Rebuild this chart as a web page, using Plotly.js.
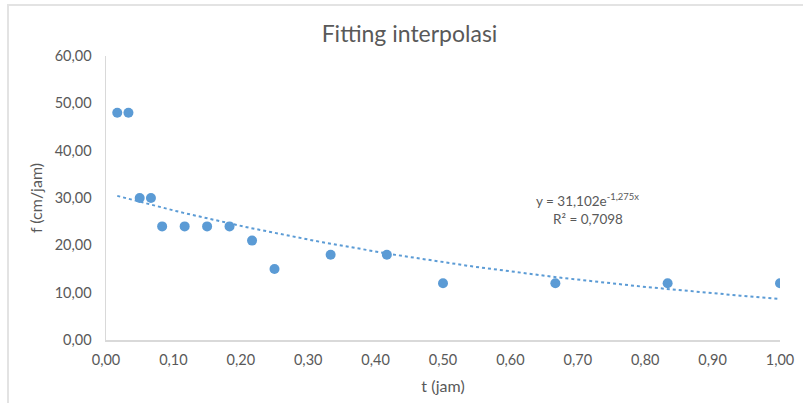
<!DOCTYPE html>
<html>
<head>
<meta charset="utf-8">
<script src="https://cdn.plot.ly/plotly-3.0.1.min.js"></script>
<style>
html,body{margin:0;padding:0;background:#fff;}
#chart{width:803px;height:403px;}
#frame{position:absolute;left:7px;top:4px;width:820px;height:420px;border-left:2px solid #e3e3e3;border-top:2px solid #e3e3e3;pointer-events:none;}
</style>
</head>
<body>
<div id="chart"></div>
<div id="frame"></div>
<script>
// Data: t (jam) and f (cm/jam)
const tJam = [0.0167, 0.0333, 0.05, 0.0667, 0.0833, 0.1167, 0.15, 0.1833, 0.2167, 0.25, 0.3333, 0.4167, 0.5, 0.6667, 0.8333, 1.0];
const fCmJam = [48, 48, 30, 30, 24, 24, 24, 24, 21, 15, 18, 18, 12, 12, 12, 12];

// Trendline coefficients as shown on chart: y = a * e^(b x)
const trendA = 31.102;
const trendB = -1.275;
const trendR2 = 0.7098;

const yTicks = [0, 10, 20, 30, 40, 50, 60];
const xTicks = [0, 0.1, 0.2, 0.3, 0.4, 0.5, 0.6, 0.7, 0.8, 0.9, 1.0];

const xMin = Math.min(...tJam), xMax = Math.max(...tJam);
const trendX = [], trendY = [];
for (let i = 0; i <= 100; i++) {
  const x = xMin + (xMax - xMin) * i / 100;
  trendX.push(x);
  trendY.push(trendA * Math.exp(trendB * x));
}

const fontFam = 'Lato, "Open Sans", sans-serif';
const blue = '#5b9bd5';

const traces = [
  {
    x: trendX, y: trendY, type: 'scatter', mode: 'lines',
    line: {color: blue, width: 2, dash: 'dot'}, hoverinfo: 'skip', showlegend: false
  },
  {
    x: tJam, y: fCmJam, type: 'scatter', mode: 'markers',
    marker: {color: blue, size: 10}, showlegend: false
  }
];

const fmt = v => v.toFixed(2).replace('.', ',');

const layout = {
  width: 803, height: 403,
  margin: {l: 106, r: 23, t: 56, b: 63},
  paper_bgcolor: '#fff', plot_bgcolor: '#fff',
  separators: ', ',
  font: {family: fontFam, color: '#595959', size: 14},
  title: {text: 'Fitting interpolasi', font: {family: fontFam, size: 23, color: '#595959'}, x: 0.51, xanchor: 'center', y: 0.915, yanchor: 'middle'},
  xaxis: {
    range: [0, 1.0], tickvals: xTicks, ticktext: xTicks.map(fmt),
    showgrid: false, zeroline: false, showline: true, linecolor: '#d9d9d9', linewidth: 1.5,
    ticks: '', ticklen: 0, ticklabelstandoff: 6, tickfont: {size: 14.5, color: '#595959'},
    title: {text: 't (jam)', font: {size: 16, color: '#595959'}, standoff: 14}
  },
  yaxis: {
    range: [0, 60], tickvals: yTicks, ticktext: yTicks.map(fmt),
    showgrid: false, zeroline: false, showline: true, linecolor: '#d9d9d9', linewidth: 1.5,
    ticks: '', ticklabelstandoff: 10, tickfont: {size: 14.5, color: '#595959'},
    title: {text: 'f (cm/jam)', font: {size: 16, color: '#595959'}, standoff: 8}
  },
  annotations: [
    {
      x: 0.715, y: 29.6, xref: 'x', yref: 'y', showarrow: false,
      text: 'y = ' + trendA.toFixed(3).replace('.', ',') + 'e<sup>' + trendB.toFixed(3).replace('.', ',') + 'x</sup>',
      font: {size: 13.5, color: '#595959'}, xanchor: 'center'
    },
    {
      x: 0.715, y: 25.6, xref: 'x', yref: 'y', showarrow: false,
      text: 'R² = ' + trendR2.toFixed(4).replace('.', ','),
      font: {size: 13.5, color: '#595959'}, xanchor: 'center'
    }
  ]
};

Plotly.newPlot('chart', traces, layout, {displayModeBar: false, staticPlot: true});
</script>
</body>
</html>
